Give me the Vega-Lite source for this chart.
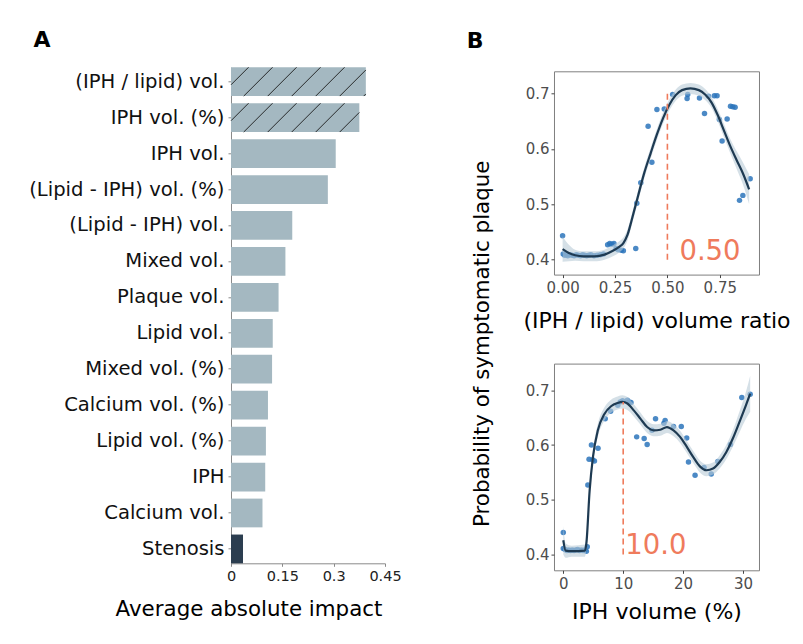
{
  "$schema": "https://vega.github.io/schema/vega-lite/v6.json",
  "background": "white",
  "padding": {"left": 28, "top": 29.3, "right": 5, "bottom": 5},
  "config": {
    "font": "DejaVu Sans",
    "view": {"stroke": null},
    "axis": {"grid": false, "labelFont": "DejaVu Sans", "titleFont": "DejaVu Sans", "titleFontWeight": "normal", "titleColor": "#000", "labelLimit": 0, "labelFlush": false},
    "title": {"font": "DejaVu Sans", "fontWeight": "bold", "fontSize": 22, "anchor": "start", "frame": "bounds", "color": "#000"}
  },
  "datasets": {
    "impact": [
      {"feature": "(IPH / lipid) vol.", "impact": 0.394, "kind": "plaque"},
      {"feature": "IPH vol. (%)", "impact": 0.375, "kind": "plaque"},
      {"feature": "IPH vol.", "impact": 0.306, "kind": "plaque"},
      {"feature": "(Lipid - IPH) vol. (%)", "impact": 0.283, "kind": "plaque"},
      {"feature": "(Lipid - IPH) vol.", "impact": 0.179, "kind": "plaque"},
      {"feature": "Mixed vol.", "impact": 0.159, "kind": "plaque"},
      {"feature": "Plaque vol.", "impact": 0.139, "kind": "plaque"},
      {"feature": "Lipid vol.", "impact": 0.122, "kind": "plaque"},
      {"feature": "Mixed vol. (%)", "impact": 0.120, "kind": "plaque"},
      {"feature": "Calcium vol. (%)", "impact": 0.108, "kind": "plaque"},
      {"feature": "Lipid vol. (%)", "impact": 0.102, "kind": "plaque"},
      {"feature": "IPH", "impact": 0.100, "kind": "plaque"},
      {"feature": "Calcium vol.", "impact": 0.092, "kind": "plaque"},
      {"feature": "Stenosis", "impact": 0.035, "kind": "stenosis"}
    ],
    "ratio_points": [
      {"x": 0.000, "p": 0.443}, {"x": 0.003, "p": 0.410}, {"x": 0.010, "p": 0.408}, {"x": 0.018, "p": 0.409},
      {"x": 0.025, "p": 0.407}, {"x": 0.035, "p": 0.409}, {"x": 0.045, "p": 0.408}, {"x": 0.055, "p": 0.407},
      {"x": 0.065, "p": 0.409}, {"x": 0.075, "p": 0.408}, {"x": 0.085, "p": 0.407}, {"x": 0.095, "p": 0.409},
      {"x": 0.105, "p": 0.408}, {"x": 0.115, "p": 0.407}, {"x": 0.125, "p": 0.408}, {"x": 0.135, "p": 0.409},
      {"x": 0.150, "p": 0.407}, {"x": 0.165, "p": 0.408}, {"x": 0.180, "p": 0.409}, {"x": 0.195, "p": 0.410},
      {"x": 0.215, "p": 0.427}, {"x": 0.225, "p": 0.429}, {"x": 0.235, "p": 0.428}, {"x": 0.245, "p": 0.429},
      {"x": 0.255, "p": 0.420}, {"x": 0.265, "p": 0.418}, {"x": 0.280, "p": 0.417}, {"x": 0.290, "p": 0.416},
      {"x": 0.349, "p": 0.420}, {"x": 0.354, "p": 0.502}, {"x": 0.373, "p": 0.539}, {"x": 0.408, "p": 0.641},
      {"x": 0.426, "p": 0.576}, {"x": 0.450, "p": 0.671}, {"x": 0.485, "p": 0.672}, {"x": 0.525, "p": 0.698},
      {"x": 0.594, "p": 0.691}, {"x": 0.597, "p": 0.698}, {"x": 0.653, "p": 0.692}, {"x": 0.677, "p": 0.664},
      {"x": 0.696, "p": 0.695}, {"x": 0.724, "p": 0.696}, {"x": 0.737, "p": 0.696}, {"x": 0.748, "p": 0.653},
      {"x": 0.761, "p": 0.614}, {"x": 0.785, "p": 0.654}, {"x": 0.801, "p": 0.677}, {"x": 0.812, "p": 0.676},
      {"x": 0.823, "p": 0.675}, {"x": 0.844, "p": 0.507}, {"x": 0.860, "p": 0.516}, {"x": 0.895, "p": 0.546}
    ],
    "ratio_fit": [
      {"x": 0.00, "fit": 0.419, "lo": 0.396, "hi": 0.442},
      {"x": 0.03, "fit": 0.412, "lo": 0.397, "hi": 0.427},
      {"x": 0.06, "fit": 0.408, "lo": 0.398, "hi": 0.418},
      {"x": 0.10, "fit": 0.406, "lo": 0.397, "hi": 0.415},
      {"x": 0.15, "fit": 0.406, "lo": 0.397, "hi": 0.415},
      {"x": 0.20, "fit": 0.409, "lo": 0.400, "hi": 0.418},
      {"x": 0.24, "fit": 0.416, "lo": 0.406, "hi": 0.426},
      {"x": 0.27, "fit": 0.423, "lo": 0.413, "hi": 0.433},
      {"x": 0.29, "fit": 0.430, "lo": 0.420, "hi": 0.440},
      {"x": 0.31, "fit": 0.445, "lo": 0.435, "hi": 0.455},
      {"x": 0.33, "fit": 0.472, "lo": 0.462, "hi": 0.482},
      {"x": 0.36, "fit": 0.515, "lo": 0.505, "hi": 0.525},
      {"x": 0.39, "fit": 0.557, "lo": 0.547, "hi": 0.567},
      {"x": 0.42, "fit": 0.592, "lo": 0.582, "hi": 0.602},
      {"x": 0.45, "fit": 0.626, "lo": 0.616, "hi": 0.636},
      {"x": 0.48, "fit": 0.656, "lo": 0.646, "hi": 0.666},
      {"x": 0.51, "fit": 0.680, "lo": 0.670, "hi": 0.690},
      {"x": 0.54, "fit": 0.697, "lo": 0.687, "hi": 0.707},
      {"x": 0.57, "fit": 0.706, "lo": 0.696, "hi": 0.716},
      {"x": 0.61, "fit": 0.709, "lo": 0.699, "hi": 0.719},
      {"x": 0.65, "fit": 0.706, "lo": 0.696, "hi": 0.716},
      {"x": 0.68, "fit": 0.698, "lo": 0.688, "hi": 0.708},
      {"x": 0.71, "fit": 0.684, "lo": 0.674, "hi": 0.694},
      {"x": 0.74, "fit": 0.661, "lo": 0.650, "hi": 0.672},
      {"x": 0.77, "fit": 0.633, "lo": 0.621, "hi": 0.645},
      {"x": 0.80, "fit": 0.605, "lo": 0.592, "hi": 0.618},
      {"x": 0.83, "fit": 0.580, "lo": 0.564, "hi": 0.596},
      {"x": 0.86, "fit": 0.556, "lo": 0.536, "hi": 0.576},
      {"x": 0.89, "fit": 0.527, "lo": 0.500, "hi": 0.554}
    ],
    "ratio_cut": [{"x": 0.5, "y": 0.40, "y2": 0.70, "label": "0.50"}],
    "pct_points": [
      {"x": 0.0, "p": 0.440}, {"x": 0.0, "p": 0.411}, {"x": 0.3, "p": 0.409}, {"x": 0.6, "p": 0.407},
      {"x": 0.9, "p": 0.408}, {"x": 1.2, "p": 0.407}, {"x": 1.5, "p": 0.408}, {"x": 1.8, "p": 0.407},
      {"x": 2.1, "p": 0.408}, {"x": 2.4, "p": 0.409}, {"x": 2.7, "p": 0.407}, {"x": 3.0, "p": 0.408},
      {"x": 3.3, "p": 0.407}, {"x": 3.6, "p": 0.408}, {"x": 3.85, "p": 0.406}, {"x": 4.0, "p": 0.414},
      {"x": 4.1, "p": 0.527}, {"x": 4.3, "p": 0.574}, {"x": 4.7, "p": 0.600}, {"x": 4.9, "p": 0.573},
      {"x": 5.2, "p": 0.571}, {"x": 5.8, "p": 0.594}, {"x": 7.0, "p": 0.648}, {"x": 7.9, "p": 0.662},
      {"x": 9.1, "p": 0.673}, {"x": 9.5, "p": 0.679}, {"x": 9.9, "p": 0.681}, {"x": 10.7, "p": 0.682},
      {"x": 11.0, "p": 0.679}, {"x": 11.3, "p": 0.678}, {"x": 12.25, "p": 0.615}, {"x": 13.5, "p": 0.612},
      {"x": 14.0, "p": 0.601}, {"x": 14.8, "p": 0.627}, {"x": 15.4, "p": 0.648}, {"x": 16.8, "p": 0.640},
      {"x": 17.0, "p": 0.645}, {"x": 18.4, "p": 0.634}, {"x": 19.7, "p": 0.634}, {"x": 20.6, "p": 0.613},
      {"x": 20.9, "p": 0.569}, {"x": 22.0, "p": 0.545}, {"x": 23.5, "p": 0.559}, {"x": 24.7, "p": 0.547},
      {"x": 25.8, "p": 0.570}, {"x": 27.9, "p": 0.601}, {"x": 29.8, "p": 0.687}, {"x": 31.2, "p": 0.693}
    ],
    "pct_fit": [
      {"x": 0.0, "fit": 0.426, "lo": 0.400, "hi": 0.452},
      {"x": 0.4, "fit": 0.407, "lo": 0.394, "hi": 0.420},
      {"x": 1.4, "fit": 0.406, "lo": 0.396, "hi": 0.416},
      {"x": 3.6, "fit": 0.407, "lo": 0.396, "hi": 0.418},
      {"x": 3.85, "fit": 0.420, "lo": 0.408, "hi": 0.432},
      {"x": 4.4, "fit": 0.517, "lo": 0.505, "hi": 0.529},
      {"x": 4.95, "fit": 0.578, "lo": 0.566, "hi": 0.590},
      {"x": 5.77, "fit": 0.627, "lo": 0.615, "hi": 0.639},
      {"x": 6.87, "fit": 0.657, "lo": 0.645, "hi": 0.669},
      {"x": 7.97, "fit": 0.671, "lo": 0.659, "hi": 0.683},
      {"x": 9.07, "fit": 0.677, "lo": 0.665, "hi": 0.689},
      {"x": 9.9, "fit": 0.679, "lo": 0.667, "hi": 0.691},
      {"x": 10.7, "fit": 0.676, "lo": 0.664, "hi": 0.688},
      {"x": 11.8, "fit": 0.663, "lo": 0.652, "hi": 0.674},
      {"x": 12.9, "fit": 0.648, "lo": 0.637, "hi": 0.659},
      {"x": 14.0, "fit": 0.633, "lo": 0.622, "hi": 0.644},
      {"x": 15.1, "fit": 0.627, "lo": 0.616, "hi": 0.638},
      {"x": 16.2, "fit": 0.628, "lo": 0.617, "hi": 0.639},
      {"x": 17.3, "fit": 0.633, "lo": 0.622, "hi": 0.644},
      {"x": 18.4, "fit": 0.627, "lo": 0.616, "hi": 0.638},
      {"x": 19.5, "fit": 0.615, "lo": 0.604, "hi": 0.626},
      {"x": 20.6, "fit": 0.597, "lo": 0.586, "hi": 0.608},
      {"x": 21.7, "fit": 0.578, "lo": 0.567, "hi": 0.589},
      {"x": 22.8, "fit": 0.561, "lo": 0.550, "hi": 0.572},
      {"x": 23.9, "fit": 0.554, "lo": 0.543, "hi": 0.565},
      {"x": 25.0, "fit": 0.557, "lo": 0.546, "hi": 0.568},
      {"x": 26.1, "fit": 0.569, "lo": 0.557, "hi": 0.581},
      {"x": 27.2, "fit": 0.587, "lo": 0.574, "hi": 0.600},
      {"x": 28.3, "fit": 0.612, "lo": 0.597, "hi": 0.627},
      {"x": 29.4, "fit": 0.642, "lo": 0.623, "hi": 0.661},
      {"x": 30.5, "fit": 0.673, "lo": 0.648, "hi": 0.698},
      {"x": 31.2, "fit": 0.694, "lo": 0.661, "hi": 0.727}
    ],
    "pct_cut": [{"x": 10, "y": 0.40, "y2": 0.679, "label": "10.0"}]
  },
  "bounds": "flush",
  "spacing": 169,
  "hconcat": [
    {
      "title": {"text": "A", "dx": 5, "offset": 13},
      "width": 154,
      "height": 496,
      "data": {"name": "impact"},
      "encoding": {
        "y": {
          "field": "feature", "type": "nominal", "sort": null,
          "scale": {"paddingInner": 0.2, "paddingOuter": 0},
          "axis": {"title": null, "domainColor": "#8a8a8a", "tickColor": "#8a8a8a", "tickSize": 3, "labelFontSize": 19.6, "labelColor": "#111", "labelPadding": 4}
        },
        "x": {
          "field": "impact", "type": "quantitative",
          "scale": {"domain": [0, 0.45], "nice": false},
          "axis": {"title": "Average absolute impact", "values": [0, 0.15, 0.3, 0.45], "labelExpr": "format(datum.value, '.2~f')", "labelFlush": false, "domainColor": "#8a8a8a", "tickColor": "#8a8a8a", "tickSize": 3, "labelFontSize": 14.5, "labelColor": "#222", "labelPadding": 3.5, "titleFontSize": 21.4, "titlePadding": 15, "titleX": 17.5}
        }
      },
      "layer": [
        {
          "mark": {"type": "bar"},
          "encoding": {
            "color": {"field": "kind", "type": "nominal", "scale": {"domain": ["plaque", "stenosis"], "range": ["#a4b8c1", "#2c3e50"]}, "legend": null}
          }
        },
        {
          "transform": [{"filter": {"field": "feature", "equal": "(IPH / lipid) vol."}}],
          "mark": {"type": "point", "shape": "M-134.8,3.1L-117.3,-14.4M-122.1,14.4L-93.3,-14.4M-98.1,14.4L-69.3,-14.4M-74.1,14.4L-45.3,-14.4M-50.1,14.4L-21.3,-14.4M-26.1,14.4L0,-11.7M-2.1,14.4L0,12.3", "size": 4, "filled": false, "stroke": "#1a1a1a", "strokeWidth": 0.9, "opacity": 1}
        },
        {
          "transform": [{"filter": {"field": "feature", "equal": "IPH vol. (%)"}}],
          "mark": {"type": "point", "shape": "M-128.3,3.1L-110.8,-14.4M-115.6,14.4L-86.8,-14.4M-91.6,14.4L-62.8,-14.4M-67.6,14.4L-38.8,-14.4M-43.6,14.4L-14.8,-14.4M-19.6,14.4L0,-5.2", "size": 4, "filled": false, "stroke": "#1a1a1a", "strokeWidth": 0.9, "opacity": 1}
        }
      ]
    },
    {
      "title": {"text": "B", "dx": -4, "offset": 14},
      "bounds": "flush",
      "spacing": 0,
      "vconcat": [
        {
          "width": 205,
          "height": 4,
          "data": {"values": []},
          "mark": "point"
        },
        {
          "bounds": "flush",
          "spacing": 88.3,
          "vconcat": [
            {
              "width": 205,
              "height": 203.3,
              "view": {"stroke": "#7f7f7f", "strokeWidth": 1},
              "layer": [
                {
                  "data": {"name": "ratio_points"},
                  "mark": {"type": "circle", "size": 30, "color": "#2b74bb", "opacity": 0.85},
                  "encoding": {
                    "x": {"field": "x", "type": "quantitative", "scale": {"domain": [-0.041, 0.937], "nice": false, "zero": false},
                      "axis": {"title": "(IPH / lipid) volume ratio", "values": [0, 0.25, 0.5, 0.75], "format": ".2f", "domain": false, "tickSize": 3, "tickColor": "#444", "labelFontSize": 15, "labelColor": "#4d4d4d", "labelPadding": 3, "titleFontSize": 22, "titlePadding": 15}},
                    "y": {"field": "p", "type": "quantitative", "scale": {"domain": [0.373, 0.74], "nice": false, "zero": false},
                      "axis": {"title": "Probability of symptomatic plaque", "values": [0.4, 0.5, 0.6, 0.7], "format": ".1f", "domain": false, "tickSize": 3, "tickColor": "#444", "labelFontSize": 15, "labelColor": "#4d4d4d", "labelPadding": 2, "titleFontSize": 21.4, "titlePadding": 33, "titleY": 272}}
                  }
                },
                {
                  "data": {"name": "ratio_fit"},
                  "mark": {"type": "area", "color": "#b9cbd7", "opacity": 0.6, "interpolate": "monotone"},
                  "encoding": {"x": {"field": "x", "type": "quantitative"}, "y": {"field": "lo", "type": "quantitative"}, "y2": {"field": "hi"}}
                },
                {
                  "data": {"name": "ratio_fit"},
                  "mark": {"type": "line", "color": "#1e3a52", "strokeWidth": 2.2, "interpolate": "monotone"},
                  "encoding": {"x": {"field": "x", "type": "quantitative"}, "y": {"field": "fit", "type": "quantitative"}}
                },
                {
                  "data": {"name": "ratio_cut"},
                  "mark": {"type": "rule", "color": "#ef7b5c", "strokeDash": [6, 4], "strokeWidth": 1.6},
                  "encoding": {"x": {"field": "x", "type": "quantitative"}, "y": {"field": "y", "type": "quantitative"}, "y2": {"field": "y2"}}
                },
                {
                  "data": {"name": "ratio_cut"},
                  "mark": {"type": "text", "align": "left", "baseline": "alphabetic", "dx": 12, "fontSize": 27.5, "color": "#ef7b5c"},
                  "encoding": {"x": {"field": "x", "type": "quantitative"}, "y": {"field": "y", "type": "quantitative"}, "text": {"field": "label"}}
                }
              ]
            },
            {
              "width": 205,
              "height": 206.7,
              "view": {"stroke": "#7f7f7f", "strokeWidth": 1},
              "layer": [
                {
                  "data": {"name": "pct_points"},
                  "mark": {"type": "circle", "size": 30, "color": "#2b74bb", "opacity": 0.85},
                  "encoding": {
                    "x": {"field": "x", "type": "quantitative", "scale": {"domain": [-1.55, 32.67], "nice": false, "zero": false},
                      "axis": {"title": "IPH volume (%)", "values": [0, 10, 20, 30], "format": "d", "domain": false, "tickSize": 3, "tickColor": "#444", "labelFontSize": 15, "labelColor": "#4d4d4d", "labelPadding": 3, "titleFontSize": 22, "titlePadding": 10}},
                    "y": {"field": "p", "type": "quantitative", "scale": {"domain": [0.371, 0.749], "nice": false, "zero": false},
                      "axis": {"title": null, "values": [0.4, 0.5, 0.6, 0.7], "format": ".1f", "domain": false, "tickSize": 3, "tickColor": "#444", "labelFontSize": 15, "labelColor": "#4d4d4d", "labelPadding": 2}}
                  }
                },
                {
                  "data": {"name": "pct_fit"},
                  "mark": {"type": "area", "color": "#b9cbd7", "opacity": 0.6, "interpolate": "monotone"},
                  "encoding": {"x": {"field": "x", "type": "quantitative"}, "y": {"field": "lo", "type": "quantitative"}, "y2": {"field": "hi"}}
                },
                {
                  "data": {"name": "pct_fit"},
                  "mark": {"type": "line", "color": "#1e3a52", "strokeWidth": 2.2, "interpolate": "monotone"},
                  "encoding": {"x": {"field": "x", "type": "quantitative"}, "y": {"field": "fit", "type": "quantitative"}}
                },
                {
                  "data": {"name": "pct_cut"},
                  "mark": {"type": "rule", "color": "#ef7b5c", "strokeDash": [6, 4], "strokeWidth": 1.6},
                  "encoding": {"x": {"field": "x", "type": "quantitative"}, "y": {"field": "y", "type": "quantitative"}, "y2": {"field": "y2"}}
                },
                {
                  "data": {"name": "pct_cut"},
                  "mark": {"type": "text", "align": "left", "baseline": "alphabetic", "dx": 2, "fontSize": 27.5, "color": "#ef7b5c"},
                  "encoding": {"x": {"field": "x", "type": "quantitative"}, "y": {"field": "y", "type": "quantitative"}, "text": {"field": "label"}}
                }
              ]
            }
          ]
        }
      ]
    }
  ]
}
